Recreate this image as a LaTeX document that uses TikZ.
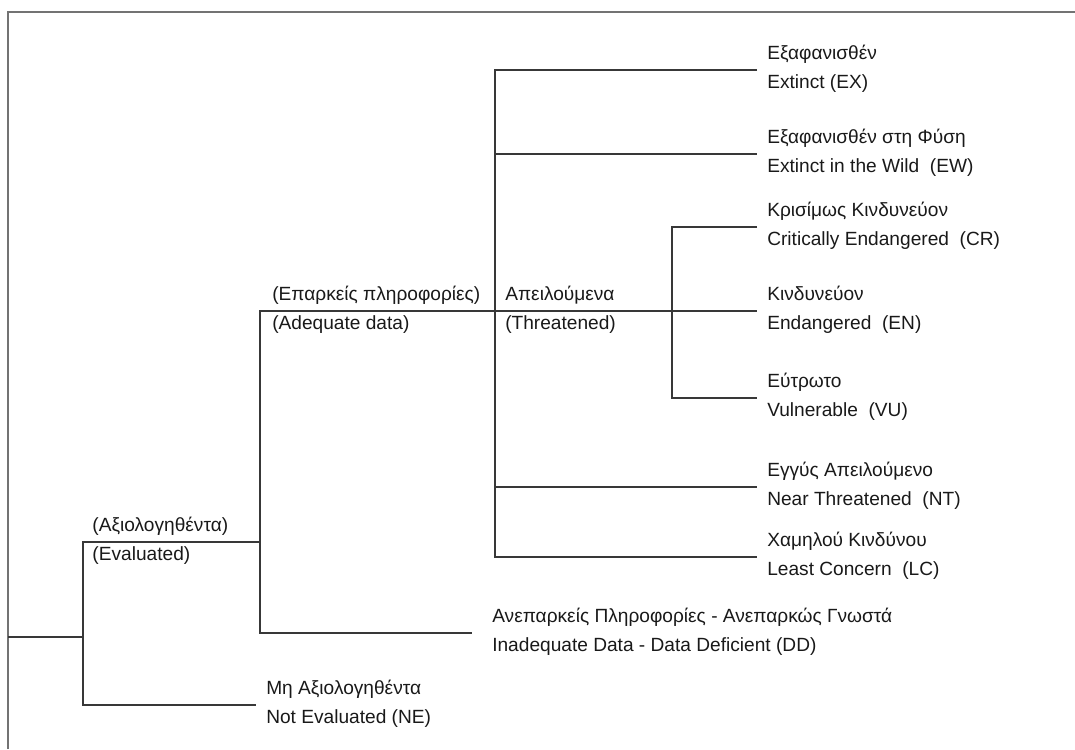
\documentclass[tikz,border=0pt]{standalone}
\usepackage{fontspec}
\setmainfont{Liberation Sans}
\usetikzlibrary{positioning}
\newcommand{\twoline}[2]{\strut#1\\\strut#2}
\tikzset{
  % tree styles
  branch/.style={draw=black!78, line width=0.8pt},
  frameline/.style={draw=black!55, line width=1.2pt},
  cat/.style={anchor=west, align=left, inner sep=0pt, text=black!90, yshift=0.05cm, font=\fontsize{13.6}{21.3}\selectfont},
}

\begin{document}
\begin{tikzpicture}[x=0.025cm, y=-0.025cm]
    \useasboundingbox (0,0) rectangle (1075,749);

    % Frame
    \draw[frameline] (8,749) -- (8,12) -- (1075,12);

    % Fork points and line ends
    \coordinate (root) at (8,637);
    \coordinate (forkA) at (83,637);
    \coordinate (ev) at (260,542);
    \coordinate (ne) at (256,705);
    \coordinate (ad) at (495,311);
    \coordinate (dd) at (472,633);
    \coordinate (th) at (672,311);
    \coordinate (ex) at (757,70);
    \coordinate (ew) at (757,154);
    \coordinate (cr) at (757,227);
    \coordinate (en) at (757,311);
    \coordinate (vu) at (757,398);
    \coordinate (nt) at (757,487);
    \coordinate (lc) at (757,557);

    % Branches
    \draw[branch] (root) -- (forkA);
    \draw[branch] (ev) -| (forkA) |- (ne);
    \draw[branch] (ad) -| (ev) |- (dd);
    \draw[branch] (ex) -| (ad) |- (lc);
    \draw[branch] (ad |- ew) -- (ew);
    \draw[branch] (ad |- nt) -- (nt);
    \draw[branch] (ad) -- (th);
    \draw[branch] (cr) -| (th) |- (vu);
    \draw[branch] (th) -- (en);

    % Inner labels
    \node[cat, xshift=0.23cm] (evl) at (forkA |- ev) {\twoline{(Αξιολογηθέντα)}{(Evaluated)}};
    \node[cat, xshift=0.3cm] (adl) at (ev |- ad) {\twoline{(Επαρκείς πληροφορίες)}{(Adequate data)}};
    \node[cat, xshift=0.25cm] (thl) at (ad) {\twoline{Απειλούμενα}{(Threatened)}};

    % Leaf labels
    \node[cat, right=0.25cm of ne] (nel) {\twoline{Μη Αξιολογηθέντα}{Not Evaluated (NE)}};
    \node[cat, right=0.5cm of dd] (ddl) {\twoline{Ανεπαρκείς Πληροφορίες - Ανεπαρκώς Γνωστά}{Inadequate Data - Data Deficient (DD)}};
    \node[cat, right=0.25cm of ex] (exl) {\twoline{Εξαφανισθέν}{Extinct (EX)}};
    \node[cat, right=0.25cm of ew] (ewl) {\twoline{Εξαφανισθέν στη Φύση}{Extinct in the Wild~ (EW)}};
    \node[cat, right=0.25cm of cr] (crl) {\twoline{Κρισίμως Κινδυνεύον}{Critically Endangered~ (CR)}};
    \node[cat, right=0.25cm of en] (enl) {\twoline{Κινδυνεύον}{Endangered~ (EN)}};
    \node[cat, right=0.25cm of vu] (vul) {\twoline{Εύτρωτο}{Vulnerable~ (VU)}};
    \node[cat, right=0.25cm of nt] (ntl) {\twoline{Εγγύς Απειλούμενο}{Near Threatened~ (NT)}};
    \node[cat, right=0.25cm of lc] (lcl) {\twoline{Χαμηλού Κινδύνου}{Least Concern~ (LC)}};
\end{tikzpicture}
\end{document}
